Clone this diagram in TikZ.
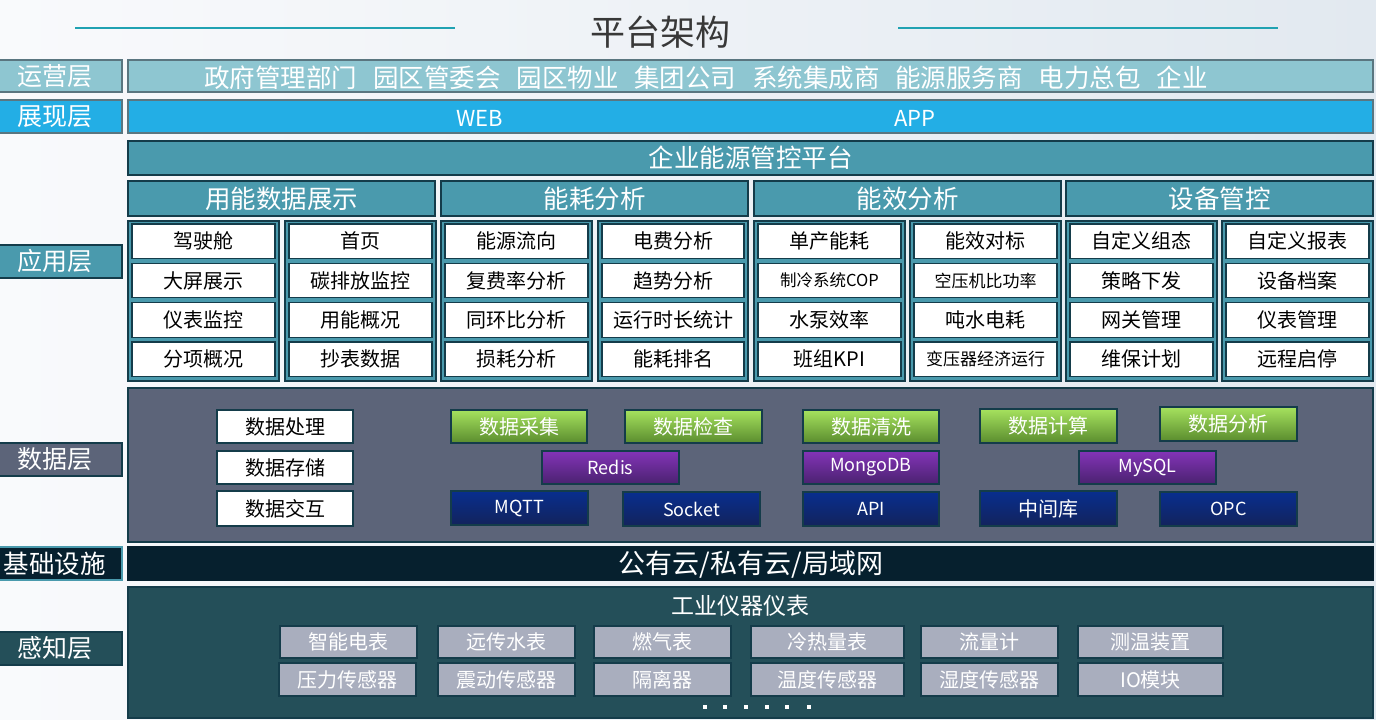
\documentclass[tikz,border=0pt]{standalone}
\usepackage{fontspec}
\setmainfont{Noto Sans CJK SC}
\newcommand\fs[1]{\fontsize{#1}{#1}\selectfont}
\newcommand\bx[7]{%
  \node[#6, minimum width={(#4-#2)*1pt}, minimum height={(#5-#3)*1pt}] (#1) at ({(#2+#4)/2},{(#3+#5)/2}) {#7};}
\definecolor{bgl}{HTML}{F9FAFC}
\definecolor{bgr}{HTML}{E2E9F0}
\definecolor{cops}{HTML}{8EC6D1}
\definecolor{cshow}{HTML}{23AEE5}
\definecolor{capp}{HTML}{4A9AAD}
\definecolor{cdata}{HTML}{5C6479}
\definecolor{cinfra}{HTML}{06202E}
\definecolor{cperc}{HTML}{244F59}
\definecolor{cgray}{HTML}{A9AEBE}
\definecolor{cbord}{HTML}{143C4A}
\definecolor{gtop}{HTML}{A6E25E}
\definecolor{gbot}{HTML}{5A8C2E}
\definecolor{ptop}{HTML}{8434B8}
\definecolor{pbot}{HTML}{4A2270}
\definecolor{ntop}{HTML}{082E8E}
\definecolor{nbot}{HTML}{13235C}
\definecolor{tline}{HTML}{20A2B2}
\definecolor{ttext}{HTML}{383838}
\tikzset{
  base/.style={draw=cbord, line width=1.2pt, inner sep=0pt, outer sep=0pt},
  lab/.style={base, text=white, font=\fs{25}},
  row/.style={base, text=white, font=\fs{25.5}},
  panelst/.style={base, fill=capp},
  item/.style={base, fill=white, text=black, font=\fs{20}},
  wbox/.style={base, fill=white, text=black, font=\fs{20}},
  gbox/.style={base, top color=gtop, bottom color=gbot, text=white, font=\fs{20}},
  pbox/.style={base, top color=ptop, bottom color=pbot, text=white, font=\fs{18}},
  nbox/.style={base, top color=ntop, bottom color=nbot, text=white, font=\fs{18}},
  graybox/.style={base, fill=cgray, text=white, font=\fs{20}},
  plain/.style={inner sep=0pt, text=white},
  tealline/.style={draw=tline, line width=1.2pt}
}
\newcommand\sm{\fs{17}}
\newcommand\panel[4]{%
  \bx{#1}{#2}{221}{#3}{381}{panelst}{}
  \foreach \t [count=\r] in {#4}{%
    \pgfmathsetmacro\ya{224+39.3*(\r-1)}%
    \pgfmathsetmacro\yb{\ya+34.5}%
    \pgfmathsetmacro\xa{#2+4}%
    \pgfmathsetmacro\xb{#3-4}%
    \bx{#1r\r}{\xa}{\ya}{\xb}{\yb}{item}{\t}}}
\begin{document}
\begin{tikzpicture}[x=1pt,y=-1pt]
\useasboundingbox (0,0) rectangle (1376,720);
\shade[left color=bgl, right color=bgr] (0,0) rectangle (1376,720);
% title
\node[inner sep=0pt, text=ttext, font=\fs{35}] (title) at (660,32) {平台架构};
\coordinate (l1a) at (75,28); \coordinate (l1b) at (455,28);
\coordinate (l2a) at (898,28); \coordinate (l2b) at (1278,28);
\draw[tealline] (l1a) -- (l1b);
\draw[tealline] (l2a) -- (l2b);
% left labels (left edge runs off the page)
\bx{L1}{-12}{60}{122}{92}{lab, fill=cops, draw=cbord!70}{运营层}
\bx{L2}{-12}{100}{122}{133}{lab, fill=cshow, draw=cbord!70}{展现层}
\bx{L3}{-12}{245}{122}{278}{lab, fill=capp}{应用层}
\bx{L4}{-12}{443}{122}{476}{lab, fill=cdata}{数据层}
\bx{L5}{-12}{547}{122}{580}{lab, fill=cinfra, draw=capp, font=\fs{25.5}}{基础设施}
\bx{L6}{-12}{632}{122}{665}{lab, fill=cperc}{感知层}
% operations
\bx{ops}{128}{60}{1373}{92}{row, fill=cops, draw=cbord!70}{}
\node[plain, font=\fs{25.5}] (opstext) at (706,78) {政府管理部门\hspace{.62em}园区管委会\hspace{.62em}园区物业\hspace{.62em}集团公司\hspace{.62em}系统集成商\hspace{.62em}能源服务商\hspace{.62em}电力总包\hspace{.62em}企业};
% presentation
\bx{show}{128}{100}{1373}{133}{row, fill=cshow, draw=cbord!70}{}
\node[plain, font=\fs{22}] (web) at (480,118) {WEB};
\node[plain, font=\fs{22}] (app) at (915,118) {APP};
% application
\bx{plat}{128}{141}{1373}{175}{row, fill=capp}{企业能源管控平台}
\bx{h1}{128}{181}{435}{216}{row, fill=capp}{用能数据展示}
\bx{h2}{441}{181}{748}{216}{row, fill=capp}{能耗分析}
\bx{h3}{754}{181}{1061}{216}{row, fill=capp}{能效分析}
\bx{h4}{1066}{181}{1373}{216}{row, fill=capp}{设备管控}
\panel{pa}{128}{279}{驾驶舱,大屏展示,仪表监控,分项概况}
\panel{pb}{285}{436}{首页,碳排放监控,用能概况,抄表数据}
\panel{pc}{441}{592}{能源流向,复费率分析,同环比分析,损耗分析}
\panel{pd}{598}{748}{电费分析,趋势分析,运行时长统计,能耗排名}
\panel{pe}{754}{905}{单产能耗,{\fs{16.5}制冷系统COP},水泵效率,班组KPI}
\panel{pf}{910}{1061}{能效对标,{\sm 空压机比功率},吨水电耗,{\sm 变压器经济运行}}
\panel{pg}{1066}{1217}{自定义组态,策略下发,网关管理,维保计划}
\panel{ph}{1222}{1373}{自定义报表,设备档案,仪表管理,远程启停}
% data layer
\bx{data}{128}{388}{1373}{542}{base, fill=cdata}{}
\bx{d1}{217}{410}{353}{443}{wbox}{数据处理}
\bx{d2}{217}{451}{353}{484}{wbox}{数据存储}
\bx{d3}{217}{491}{353}{526}{wbox}{数据交互}
\bx{g1}{451}{410}{587}{443}{gbox}{数据采集}
\bx{g2}{625}{410}{762}{443}{gbox}{数据检查}
\bx{g3}{803}{410}{939}{443}{gbox}{数据清洗}
\bx{g4}{980}{409}{1117}{443}{gbox}{数据计算}
\bx{g5}{1160}{407}{1297}{441}{gbox}{数据分析}
\bx{r1}{542}{451}{679}{484}{pbox}{Redis}
\bx{r2}{803}{451}{939}{484}{pbox}{MongoDB}
\bx{r3}{1079}{451}{1216}{484}{pbox}{MySQL}
\bx{n1}{451}{491}{588}{525}{nbox}{MQTT}
\bx{n2}{623}{492}{760}{526}{nbox}{Socket}
\bx{n3}{803}{492}{939}{526}{nbox}{API}
\bx{n4}{980}{491}{1117}{526}{nbox, font=\fs{20}}{中间库}
\bx{n5}{1160}{492}{1297}{526}{nbox}{OPC}
% infrastructure
\bx{infra}{128}{547}{1373}{580}{base, fill=cinfra, draw=cinfra}{}
\node[plain, font=\fs{27}] (infratext) at (751,565) {公有云/私有云/局域网};
% perception
\bx{perc}{128}{587}{1373}{718}{base, fill=cperc}{}
\node[plain, font=\fs{23}] (ptitle) at (740,606) {工业仪器仪表};
\bx{s1}{280}{626}{417}{658}{graybox}{智能电表}
\bx{s2}{438}{626}{575}{658}{graybox}{远传水表}
\bx{s3}{594}{626}{731}{658}{graybox}{燃气表}
\bx{s4}{751}{626}{904}{658}{graybox}{冷热量表}
\bx{s5}{921}{626}{1058}{658}{graybox}{流量计}
\bx{s6}{1078}{626}{1223}{658}{graybox}{测温装置}
\bx{t1}{279}{663}{416}{696}{graybox}{压力传感器}
\bx{t2}{438}{663}{575}{696}{graybox}{震动传感器}
\bx{t3}{594}{663}{731}{696}{graybox}{隔离器}
\bx{t4}{751}{663}{904}{696}{graybox}{温度传感器}
\bx{t5}{921}{663}{1058}{696}{graybox}{湿度传感器}
\bx{t6}{1078}{663}{1223}{696}{graybox}{IO模块}
\foreach \dx in {705,725,746,767,787,809}
  \fill[white] (\dx-2,705) rectangle (\dx+2,709);
\end{tikzpicture}
\end{document}
